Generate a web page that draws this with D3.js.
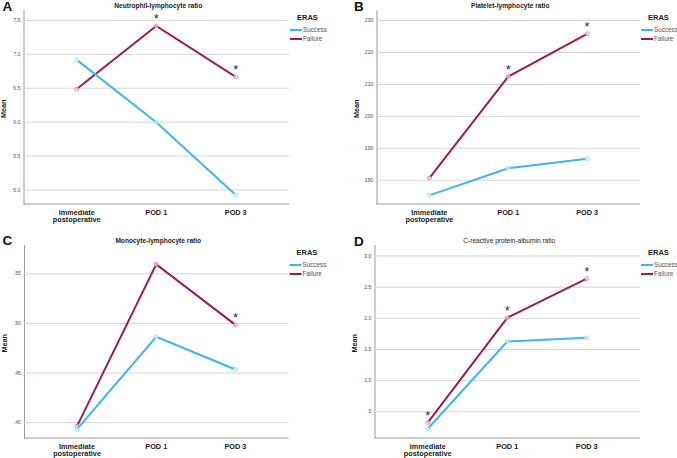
<!DOCTYPE html>
<html>
<head>
<meta charset="utf-8">
<script src="https://cdn.jsdelivr.net/npm/d3@7"></script>
<style>
  body { margin: 0; background: #fff; }
  svg { display: block; font-family: "Liberation Sans", Arial, sans-serif; }
</style>
</head>
<body>
<svg id="chart" width="677" height="458"></svg>
<script>
// time points and groups
const categories = ["Immediate postoperative", "POD 1", "POD 3"];
const groups = ["Success", "Failure"];

// A - neutrophil-lymphocyte ratio
const nlrSuccess = [6.91, 5.99, 4.92];
const nlrFailure = [6.48, 7.41, 6.66];
const nlrSig = [false, true, true];
const nlrTicks = [5.0, 5.5, 6.0, 6.5, 7.0, 7.5];
const nlrTickLabels = ["5.0", "5.5", "6.0", "6.5", "7.0", "7.5"];

// B - platelet-lymphocyte ratio
const plrSuccess = [175.1, 183.6, 186.6];
const plrFailure = [180.5, 212.3, 225.7];
const plrSig = [false, true, true];
const plrTicks = [180, 190, 200, 210, 220, 230];
const plrTickLabels = ["180", "190", "200", "210", "220", "230"];

// C - monocyte-lymphocyte ratio
const mlrSuccess = [0.393, 0.486, 0.453];
const mlrFailure = [0.396, 0.559, 0.498];
const mlrSig = [false, false, true];
const mlrTicks = [0.40, 0.45, 0.50, 0.55];
const mlrTickLabels = [".40", ".45", ".50", ".55"];

// D - C-reactive protein-albumin ratio
const carSuccess = [0.22, 1.62, 1.68];
const carFailure = [0.32, 2.00, 2.63];
const carSig = [true, true, true];
const carTicks = [0.5, 1.0, 1.5, 2.0, 2.5, 3.0];
const carTickLabels = [".5", "1.0", "1.5", "2.0", "2.5", "3.0"];

const colors = { Success: "#3fb6f4", Failure: "#a11a5b" };
const markerColors = { Success: "#9fdcfa", Failure: "#d98aae" };

const panels = [
  { letter: "A", title: "Neutrophil-lymphocyte ratio", bold: true,
    success: nlrSuccess, failure: nlrFailure, sig: nlrSig, ticks: nlrTicks, tickLabels: nlrTickLabels,
    domain: [4.786, 7.653], left: 23.5, right: 289, top: 9.5, bottom: 204, lx: 2.5, ly: 11 },
  { letter: "B", title: "Platelet-lymphocyte ratio", bold: true,
    success: plrSuccess, failure: plrFailure, sig: plrSig, ticks: plrTicks, tickLabels: plrTickLabels,
    domain: [172.4, 233.3], left: 376.5, right: 640, top: 9.5, bottom: 204, lx: 354, ly: 11 },
  { letter: "C", title: "Monocyte-lymphocyte ratio", bold: true,
    success: mlrSuccess, failure: mlrFailure, sig: mlrSig, ticks: mlrTicks, tickLabels: mlrTickLabels,
    domain: [0.384, 0.579], left: 24, right: 288.5, top: 244.5, bottom: 438, lx: 2.5, ly: 244.5 },
  { letter: "D", title: "C-reactive protein-albumin ratio", bold: false,
    success: carSuccess, failure: carFailure, sig: carSig, ticks: carTicks, tickLabels: carTickLabels,
    domain: [0.072, 3.176], left: 374.5, right: 640, top: 244.5, bottom: 438, lx: 354, ly: 246 }
];

const svg = d3.select("#chart");

panels.forEach(p => {
  const g = svg.append("g");
  const w = p.right - p.left;

  const x = d3.scalePoint().domain(categories).range([p.left, p.right]).padding(0.67);
  const y = d3.scaleLinear().domain(p.domain).range([p.bottom, p.top]);

  // y axis with gridlines
  const yAxis = d3.axisLeft(y)
    .tickValues(p.ticks)
    .tickFormat((d, i) => p.tickLabels[i])
    .tickSize(-w)
    .tickSizeOuter(0)
    .tickPadding(3);
  const ya = g.append("g").attr("transform", `translate(${p.left},0)`).call(yAxis);
  ya.select(".domain").attr("stroke", "#9a9a9a").attr("stroke-width", 1);
  ya.selectAll(".tick line").attr("stroke", "#d6d6d6").attr("stroke-width", 1);
  ya.selectAll(".tick text").attr("fill", "#555").attr("font-size", 5.2);

  // x axis
  const xAxis = d3.axisBottom(x).tickSize(0).tickFormat("");
  const xa = g.append("g").attr("transform", `translate(0,${p.bottom})`).call(xAxis);
  xa.select(".domain").attr("stroke", "#9a9a9a").attr("stroke-width", 1)
    .attr("d", `M${p.left},0H${p.right}`);

  categories.forEach(c => {
    const words = c === "Immediate postoperative" ? ["Immediate", "postoperative"] : [c];
    const t = g.append("text")
      .attr("x", x(c)).attr("y", p.bottom + 10.8)
      .attr("text-anchor", "middle")
      .attr("font-size", 7.3).attr("font-weight", "bold").attr("fill", "#222");
    words.forEach((wd, i) => {
      t.append("tspan").attr("x", x(c)).attr("dy", i === 0 ? 0 : 7.6).text(wd);
    });
  });

  // y title
  g.append("text")
    .attr("transform", `translate(${p.left - 17.5},${(p.top + p.bottom) / 2 + 2}) rotate(-90)`)
    .attr("text-anchor", "middle")
    .attr("font-size", 7.3).attr("font-weight", "bold").attr("fill", "#222")
    .text("Mean");

  // chart title
  g.append("text")
    .attr("x", (p.left + p.right) / 2 + 2).attr("y", p.top - 2)
    .attr("text-anchor", "middle")
    .attr("font-size", 6.6).attr("font-weight", p.bold ? "bold" : "normal").attr("fill", "#222")
    .text(p.title);

  // panel letter
  g.append("text")
    .attr("x", p.lx).attr("y", p.ly)
    .attr("font-size", 13.5).attr("font-weight", "bold").attr("fill", "#111")
    .text(p.letter);

  const line = d3.line().x((d, i) => x(categories[i])).y(d => y(d));
  const series = [
    { name: "Failure", values: p.failure },
    { name: "Success", values: p.success }
  ];

  series.forEach(s => {
    g.append("path")
      .datum(s.values)
      .attr("d", line)
      .attr("fill", "none")
      .attr("stroke", colors[s.name])
      .attr("stroke-width", 2);
    g.selectAll(null)
      .data(s.values)
      .enter().append("circle")
      .attr("cx", (d, i) => x(categories[i]))
      .attr("cy", d => y(d))
      .attr("r", 1.9)
      .attr("fill", "#fff")
      .attr("fill-opacity", 0.6)
      .attr("stroke", markerColors[s.name])
      .attr("stroke-width", 1);
  });

  // significance stars above failure points
  p.failure.forEach((v, i) => {
    if (!p.sig[i]) return;
    g.append("text")
      .attr("x", x(categories[i])).attr("y", y(v) - 3)
      .attr("text-anchor", "middle")
      .attr("font-size", 13).attr("fill", "#333")
      .text("*");
  });

  // legend
  const lg = g.append("g").attr("transform", `translate(${p.right},${p.top})`);
  lg.append("text")
    .attr("x", 8).attr("y", 10)
    .attr("font-size", 7.5).attr("font-weight", "bold").attr("fill", "#222")
    .text("ERAS");
  groups.forEach((name, i) => {
    const yy = 20.5 + i * 9;
    lg.append("line")
      .attr("x1", 1).attr("x2", 13).attr("y1", yy).attr("y2", yy)
      .attr("stroke", colors[name]).attr("stroke-width", 2);
    lg.append("text")
      .attr("x", 14).attr("y", yy + 2.2)
      .attr("font-size", 6.3).attr("fill", "#555")
      .text(name);
  });
});
</script>
</body>
</html>
